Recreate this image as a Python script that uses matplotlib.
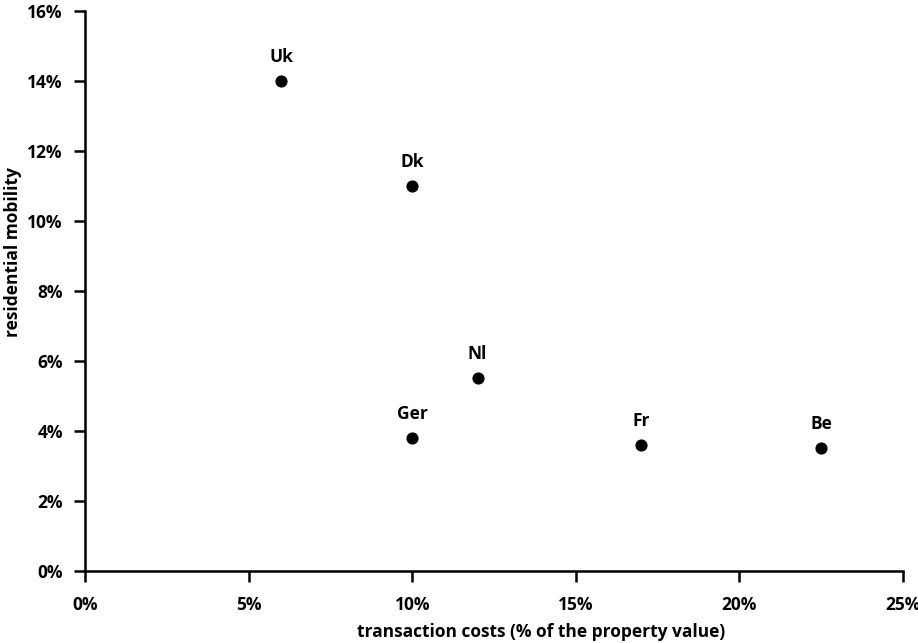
import matplotlib
matplotlib.use("Agg")
import matplotlib.pyplot as plt
from matplotlib.ticker import FuncFormatter

countries = ["Uk", "Dk", "Nl", "Ger", "Fr", "Be"]
transaction_costs = [6.0, 10.0, 12.0, 10.0, 17.0, 22.5]
residential_mobility = [14.0, 11.0, 5.5, 3.8, 3.6, 3.5]
x_ticks = [0, 5, 10, 15, 20, 25]
y_ticks = [0, 2, 4, 6, 8, 10, 12, 14, 16]

plt.rcParams['font.family'] = ['Open Sans', 'DejaVu Sans']

fig = plt.figure(figsize=(9.18, 6.43), dpi=100)
ax = fig.add_axes([0.0926, 0.112, 0.8911, 0.8709])

ax.scatter(transaction_costs, residential_mobility, s=60, color="black", zorder=3)
for name, x, y in zip(countries, transaction_costs, residential_mobility):
    ax.annotate(name, (x, y), xytext=(0, 11), textcoords="offset points",
                ha="center", va="bottom", fontsize=12.5, fontweight="bold")

ax.set_xlim(0, 25)
ax.set_ylim(0, 16)
ax.set_xticks(x_ticks)
ax.set_yticks(y_ticks)
ax.xaxis.set_major_formatter(FuncFormatter(lambda v, p: f"{v:g}%"))
ax.yaxis.set_major_formatter(FuncFormatter(lambda v, p: f"{v:g}%"))
for s in ["top", "right"]:
    ax.spines[s].set_visible(False)
for s in ["left", "bottom"]:
    ax.spines[s].set_linewidth(1.8)
ax.tick_params(axis="both", direction="out", length=8, width=1.8, labelsize=12.5)
ax.tick_params(axis="x", pad=10)
ax.tick_params(axis="y", pad=8)
for lab in ax.get_xticklabels() + ax.get_yticklabels():
    lab.set_fontweight("bold")

ax.set_xlabel("transaction costs (% of the property value)", fontsize=12.5, fontweight="bold")
ax.set_ylabel("residential mobility", fontsize=12.5, fontweight="bold")
ax.xaxis.set_label_coords(0.557, -0.093)
ax.yaxis.set_label_coords(-0.077, 0.57)

fig.savefig("out.png", dpi=100)
